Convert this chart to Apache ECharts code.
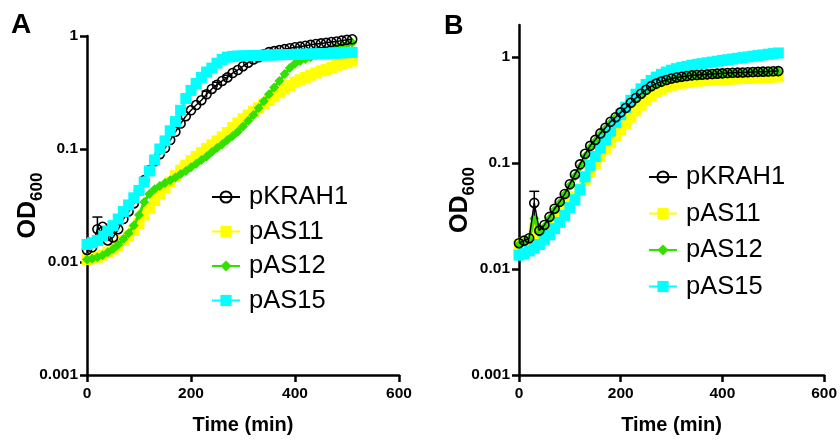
<!DOCTYPE html>
<html><head><meta charset="utf-8">
<script src="https://cdn.jsdelivr.net/npm/echarts@6/dist/echarts.min.js"></script>
<style>html,body{margin:0;padding:0;background:#fff}#c{width:840px;height:440px}</style>
</head><body><div id="c"></div>
<script>
const time = [0,10,20,30,40,50,60,70,80,90,100,110,120,130,140,150,160,170,180,190,200,210,220,230,240,250,260,270,280,290,300,310,320,330,340,350,360,370,380,390,400,410,420,430,440,450,460,470,480,490,500,510];
const names = ['pKRAH1','pAS11','pAS12','pAS15'];
const yTicks = [0.001,0.01,0.1,1];
const xTicks = [0,200,400,600];

// Panel A
const A_pKRAH1 = [0.0128,0.0135,0.0195,0.0205,0.0155,0.0165,0.0195,0.024,0.028,0.033,0.043,0.053,0.065,0.078,0.09,0.102,0.12,0.142,0.168,0.195,0.22,0.245,0.27,0.305,0.34,0.37,0.40,0.43,0.47,0.50,0.54,0.58,0.62,0.65,0.69,0.72,0.735,0.75,0.765,0.78,0.795,0.805,0.82,0.835,0.85,0.86,0.87,0.885,0.895,0.91,0.925,0.935];
const A_pAS11 = [0.0105,0.0107,0.011,0.0115,0.0122,0.013,0.014,0.0155,0.017,0.019,0.022,0.026,0.030,0.035,0.040,0.045,0.051,0.058,0.065,0.072,0.079,0.086,0.093,0.101,0.109,0.118,0.128,0.14,0.155,0.17,0.185,0.2,0.215,0.232,0.25,0.27,0.29,0.315,0.34,0.365,0.39,0.41,0.43,0.45,0.47,0.49,0.505,0.525,0.55,0.565,0.58,0.60];
const A_pAS12 = [0.0105,0.0107,0.011,0.0115,0.0122,0.013,0.0142,0.016,0.018,0.021,0.026,0.034,0.040,0.044,0.047,0.05,0.053,0.056,0.06,0.064,0.069,0.074,0.08,0.086,0.094,0.102,0.11,0.12,0.13,0.142,0.158,0.178,0.2,0.23,0.265,0.305,0.35,0.4,0.46,0.52,0.57,0.6,0.625,0.65,0.675,0.7,0.725,0.75,0.78,0.81,0.84,0.87];
const A_pAS15 = [0.0143,0.0148,0.0155,0.017,0.0188,0.021,0.024,0.028,0.032,0.037,0.043,0.051,0.064,0.08,0.1,0.118,0.145,0.175,0.22,0.28,0.33,0.38,0.43,0.48,0.52,0.575,0.62,0.65,0.66,0.665,0.668,0.67,0.672,0.674,0.676,0.678,0.68,0.682,0.684,0.686,0.688,0.69,0.692,0.694,0.696,0.698,0.70,0.703,0.706,0.709,0.712,0.715];
// error bars [time, low, high]
const A_err = [[20,0.0175,0.025],[230,0.285,0.325],[250,0.35,0.39],[270,0.41,0.45]];

// Panel B
const B_pKRAH1 = [0.0175,0.0185,0.0195,0.042,0.023,0.026,0.031,0.037,0.043,0.051,0.063,0.078,0.097,0.122,0.145,0.165,0.19,0.215,0.245,0.27,0.30,0.33,0.37,0.41,0.45,0.49,0.53,0.56,0.585,0.605,0.625,0.64,0.65,0.66,0.67,0.675,0.68,0.685,0.69,0.695,0.70,0.705,0.708,0.711,0.714,0.717,0.72,0.723,0.726,0.729,0.732,0.735];
const B_pAS11 = [0.017,0.0175,0.018,0.024,0.021,0.023,0.025,0.028,0.031,0.036,0.041,0.048,0.057,0.068,0.082,0.098,0.115,0.135,0.155,0.18,0.205,0.235,0.27,0.31,0.35,0.39,0.43,0.465,0.495,0.52,0.54,0.555,0.565,0.575,0.585,0.59,0.595,0.6,0.605,0.61,0.613,0.616,0.62,0.623,0.626,0.63,0.633,0.636,0.64,0.643,0.646,0.65];
const B_pAS12 = [0.017,0.018,0.019,0.03,0.022,0.025,0.03,0.036,0.042,0.05,0.061,0.075,0.092,0.115,0.14,0.16,0.185,0.21,0.24,0.265,0.295,0.325,0.36,0.4,0.44,0.48,0.52,0.55,0.575,0.595,0.615,0.63,0.64,0.65,0.66,0.665,0.67,0.675,0.68,0.685,0.69,0.695,0.698,0.70,0.703,0.706,0.709,0.712,0.715,0.718,0.721,0.724];
const B_pAS15 = [0.0135,0.014,0.0148,0.0158,0.017,0.019,0.021,0.024,0.0275,0.032,0.038,0.045,0.056,0.074,0.095,0.115,0.138,0.165,0.2,0.24,0.285,0.335,0.39,0.445,0.50,0.55,0.60,0.645,0.685,0.72,0.75,0.775,0.795,0.815,0.835,0.85,0.865,0.88,0.895,0.91,0.925,0.94,0.955,0.97,0.985,1.0,1.015,1.03,1.045,1.06,1.075,1.09];
const B_err = [[30,0.032,0.054]];

const FONT = 'Liberation Sans, Arial, Helvetica, sans-serif';
const pair = arr => time.map((t,i) => [t, arr[i]]);

const styles = {
  pKRAH1: {symbol:'circle', symbolSize:9, color:'rgba(0,0,0,0)', border:'#000', line:'#000', lw:1.5, bw:1.6},
  pAS11: {symbol:'rect', symbolSize:11, color:'#ffff00', border:'#ffff00', line:'#ffff00', lw:3, bw:0},
  pAS12: {symbol:'diamond', symbolSize:10, color:'#33e000', border:'#33e000', line:'#33e000', lw:3, bw:0},
  pAS15: {symbol:'rect', symbolSize:11, color:'#00ffff', border:'#00ffff', line:'#00ffff', lw:3, bw:0}
};

function lineSeries(name, arr, idx, z) {
  const s = styles[name];
  return {
    type:'line', name, xAxisIndex:idx, yAxisIndex:idx, data:pair(arr), z,
    symbol:s.symbol, symbolSize:s.symbolSize, showAllSymbol:true, clip:false,
    lineStyle:{color:s.line, width:s.lw},
    itemStyle:{color:s.color, borderColor:s.border, borderWidth:s.bw},
    emphasis:{disabled:true}, animation:false
  };
}
function errSeries(arr, idx) {
  return {
    type:'custom', xAxisIndex:idx, yAxisIndex:idx, data:arr, z:10, clip:false,
    encode:{x:0, y:[1,2]},
    renderItem:(params, api) => {
      const t = api.value(0), lo = api.value(1), hi = api.value(2);
      const p1 = api.coord([t, lo]), p2 = api.coord([t, hi]);
      const st = {stroke:'#000', lineWidth:1.5};
      return {type:'group', children:[
        {type:'line', shape:{x1:p1[0], y1:p1[1], x2:p2[0], y2:p2[1]}, style:st},
        {type:'line', shape:{x1:p2[0]-5, y1:p2[1], x2:p2[0]+5, y2:p2[1]}, style:st}
      ]};
    },
    animation:false, silent:true
  };
}

const axisCommon = {
  axisLine:{show:true, onZero:false, lineStyle:{color:'#000', width:2.5}},
  axisTick:{show:true, length:7, lineStyle:{color:'#000', width:2.5}},
  splitLine:{show:false}, minorTick:{show:false}
};
function xAxis(idx) {
  return Object.assign({}, axisCommon, {
    type:'value', gridIndex:idx, min:0, max:600, interval:200,
    axisLabel:{color:'#000', fontFamily:FONT, fontWeight:'bold', fontSize:15.5, margin:11},
    name:'Time (min)', nameLocation:'middle', nameGap:40, nameMoveOverlap:false,
    nameTextStyle:{color:'#000', fontFamily:FONT, fontWeight:'bold', fontSize:20}
  });
}
function yAxis(idx, max) {
  return Object.assign({}, axisCommon, {
    type:'log', logBase:10, gridIndex:idx, min:0.001, max:max,
    axisTick:{show:true, length:7, lineStyle:{color:'#000', width:2.5}, customValues:yTicks},
    axisLabel:{color:'#000', fontFamily:FONT, fontWeight:'bold', fontSize:15.5, margin:9, customValues:yTicks,
      formatter: v => (yTicks.some(t => Math.abs(t - v) / t < 1e-6) ? String(v) : '')},
    name:'{a|OD}{b|600}', nameLocation:'middle', nameGap:41, nameRotate:90, nameMoveOverlap:false,
    nameTextStyle:{color:'#000', rich:{
      a:{fontFamily:FONT, fontWeight:'bold', fontSize:25, lineHeight:30, verticalAlign:'top', color:'#000'},
      b:{fontFamily:FONT, fontWeight:'bold', fontSize:17, lineHeight:18, verticalAlign:'bottom', padding:[18,0,0,0], color:'#000'}
    }}
  });
}
function legend(left, top, gap) {
  return {
    data:names, orient:'vertical', left, top, itemGap:gap, itemWidth:28, itemHeight:14,
    selectedMode:false,
    textStyle:{color:'#000', fontFamily:FONT, fontSize:25.5, lineHeight:24, padding:[0,0,0,4]}
  };
}

const chart = echarts.init(document.getElementById('c'), null, {renderer:'canvas'});
chart.setOption({
  backgroundColor:'#fff',
  animation:false,
  grid:[{left:87, top:36, width:312, height:345}, {left:519, top:25, width:307, height:357}],
  xAxis:[xAxis(0), xAxis(1)],
  yAxis:[yAxis(0, 1), yAxis(1, 2)],
  legend:[legend(206, 179, 8.5), legend(643, 159, 10.5)],
  graphic:[
    {type:'text', left:11, top:11, style:{text:'A', font:'bold 28px ' + FONT, fill:'#000'}},
    {type:'text', left:444, top:13, style:{text:'B', font:'bold 27px ' + FONT, fill:'#000'}}
  ],
  series:[
    lineSeries('pAS11', A_pAS11, 0, 2),
    lineSeries('pAS12', A_pAS12, 0, 3),
    lineSeries('pKRAH1', A_pKRAH1, 0, 4),
    lineSeries('pAS15', A_pAS15, 0, 5),
    errSeries(A_err, 0),
    lineSeries('pAS11', B_pAS11, 1, 2),
    lineSeries('pAS12', B_pAS12, 1, 3),
    lineSeries('pAS15', B_pAS15, 1, 4),
    lineSeries('pKRAH1', B_pKRAH1, 1, 5),
    errSeries(B_err, 1)
  ]
});
</script></body></html>
